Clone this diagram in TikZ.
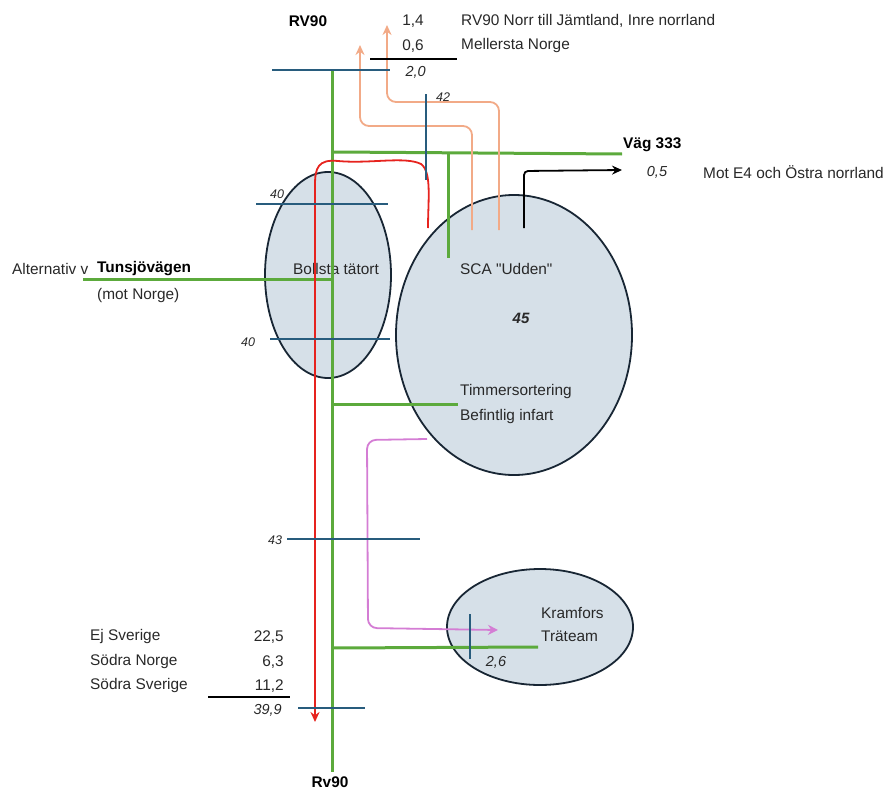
\documentclass[tikz,border=0pt]{standalone}
\usepackage{fontspec}
\setmainfont{Liberation Sans}
\newfontfamily\qfont{Liberation Sans}
\usetikzlibrary{arrows.meta,shapes.geometric}
\definecolor{road}{RGB}{92,170,60}
\definecolor{cut}{RGB}{40,92,125}
\definecolor{flowred}{RGB}{230,35,30}
\definecolor{salmon}{RGB}{242,170,135}
\definecolor{orchid}{RGB}{212,125,212}
\definecolor{areafill}{RGB}{214,224,232}
\definecolor{areaedge}{RGB}{24,38,52}
\definecolor{txt}{RGB}{40,40,40}
\tikzset{
  area/.style={ellipse, draw=areaedge, line width=1.8pt, fill=areafill, inner sep=0pt},
  roadline/.style={draw=road, line width=3pt},
  cutline/.style={draw=cut, line width=1.8pt},
  flowline/.style={line width=1.8pt, rounded corners=9pt},
  lbl/.style={inner sep=0pt, text=txt, font=\fontsize{15.4}{18}\selectfont},
  blbl/.style={lbl, font=\fontsize{15.4}{18}\selectfont\bfseries, text=black},
  ilbl/.style={lbl, font=\fontsize{14.5}{17}\selectfont\itshape},
  slbl/.style={lbl, font=\fontsize{12.5}{15}\selectfont\itshape},
}
\begin{document}
\begin{tikzpicture}[x=1pt,y=-1pt]
\useasboundingbox (0,0) rectangle (891,792);
% areas
\node[area, minimum width=126pt, minimum height=206pt] (bollsta) at (328,275) {};
\node[area, minimum width=236pt, minimum height=280pt] (sca) at (514,335) {};
\node[area, minimum width=186pt, minimum height=116pt] (kramfors) at (540,627) {};
% texts inside areas
\node[lbl, anchor=west] (tbollsta) at (293,269) {Bollsta tätort};
\node[lbl, anchor=west] (tsca) at (460,269) {\qfont SCA "Udden"};
\node[lbl, anchor=center, font=\fontsize{15}{18}\selectfont\bfseries\itshape] (t45) at (521,318) {45};
\node[lbl, anchor=west] (ttimmer) at (460,392) {Timmersortering};
\node[lbl, anchor=west] (tbefintlig) at (460,417) {Befintlig infart};
\node[lbl, anchor=west] (tkram) at (541,613) {Kramfors};
\node[lbl, anchor=west] (ttrateam) at (541,636) {Träteam};
% roads
\coordinate (mTop) at (332,70);
\coordinate (mBot) at (332,772);
\draw[roadline] (mTop) -- (mBot);
\coordinate (hA) at (334,152);
\coordinate (hB) at (622,154);
\draw[roadline] (hA) -- (hB);
\coordinate (bA) at (448,153);
\coordinate (bB) at (448,258);
\draw[roadline] (bA) -- (bB);
\coordinate (tA) at (83,279);
\coordinate (tB) at (332,279);
\draw[roadline] (tA) -- (tB);
\coordinate (iA) at (332,404);
\coordinate (iB) at (458,404);
\draw[roadline] (iA) -- (iB);
\coordinate (kA) at (332,648);
\coordinate (kB) at (538,647);
\draw[roadline] (kA) -- (kB);
% flows
\draw[flowline, draw=salmon, -{Stealth[length=10pt,width=9pt]}] (472,230) -- (472,126) -- (360,126) -- (360,45);
\draw[flowline, draw=salmon, -{Stealth[length=10pt,width=9pt]}] (499,230) -- (499,102) -- (387,102) -- (387,25);
\draw[line width=1.8pt, draw=flowred, -{Stealth[length=10pt,width=9pt]}] (428,228) .. controls (428,200) and (432,172) .. (421,164) .. controls (405,156) and (370,164) .. (338,161) .. controls (318,159) and (315,168) .. (315,185) -- (315,722);
\draw[flowline, draw=orchid, -{Stealth[length=10pt,width=10pt]}] (427,439) -- (367,440) -- (368,628) -- (498,630);
\draw[line width=1.8pt, rounded corners=4pt, -{Stealth[length=10pt,width=9pt]}] (524,228) -- (524,171) -- (622,170);
% cut lines
\draw[cutline] (272,70) -- (390,70);
\draw[cutline] (426,94) -- (426,180);
\draw[cutline] (256,204) -- (388,204);
\draw[cutline] (270,339) -- (390,339);
\draw[cutline] (287,539) -- (420,539);
\draw[cutline] (470,614) -- (470,659);
\draw[cutline] (298,708) -- (365,708);
% sum lines
\draw[line width=1.8pt] (370,59) -- (457,59);
\draw[line width=1.8pt] (208,697) -- (290,697);
% labels
\node[blbl] (rv90n) at (308,21) {RV90};
\node[lbl, anchor=east] (v14) at (424,21) {1,4};
\node[lbl, anchor=east] (v06) at (424,46) {0,6};
\node[lbl, anchor=west] (dest1) at (461,21) {RV90 Norr till Jämtland, Inre norrland};
\node[lbl, anchor=west] (dest2) at (461,46) {Mellersta Norge};
\node[ilbl, anchor=east] (v20) at (426,72) {2,0};
\node[slbl, anchor=west] (c42) at (436,97) {42};
\node[blbl, anchor=west] (vag) at (623,145) {Väg 333};
\node[ilbl] (v05) at (657,172) {0,5};
\node[lbl, anchor=west] (dest3) at (703,172) {Mot E4 och Östra norrland};
\node[slbl] (c40a) at (277,194) {40};
\node[slbl] (c40b) at (248,342) {40};
\node[slbl] (c43) at (275,540) {43};
\node[ilbl] (v26) at (496,662) {2,6};
\node[lbl, anchor=west] (alt) at (12,269) {Alternativ v};
\node[blbl, anchor=west] (tunsj) at (97,269) {Tunsjövägen};
\node[lbl, anchor=west] (motn) at (97,296) {(mot Norge)};
\node[lbl, anchor=west] (ej) at (90,637) {Ej Sverige};
\node[lbl, anchor=west] (sn) at (90,662) {Södra Norge};
\node[lbl, anchor=west] (ss) at (90,686) {Södra Sverige};
\node[lbl, anchor=east] (n1) at (284,637) {22,5};
\node[lbl, anchor=east] (n2) at (284,662) {6,3};
\node[lbl, anchor=east] (n3) at (284,686) {11,2};
\node[ilbl, anchor=east] (n4) at (282,710) {39,9};
\node[blbl] (rv90s) at (330,782) {Rv90};
\end{tikzpicture}
\end{document}
